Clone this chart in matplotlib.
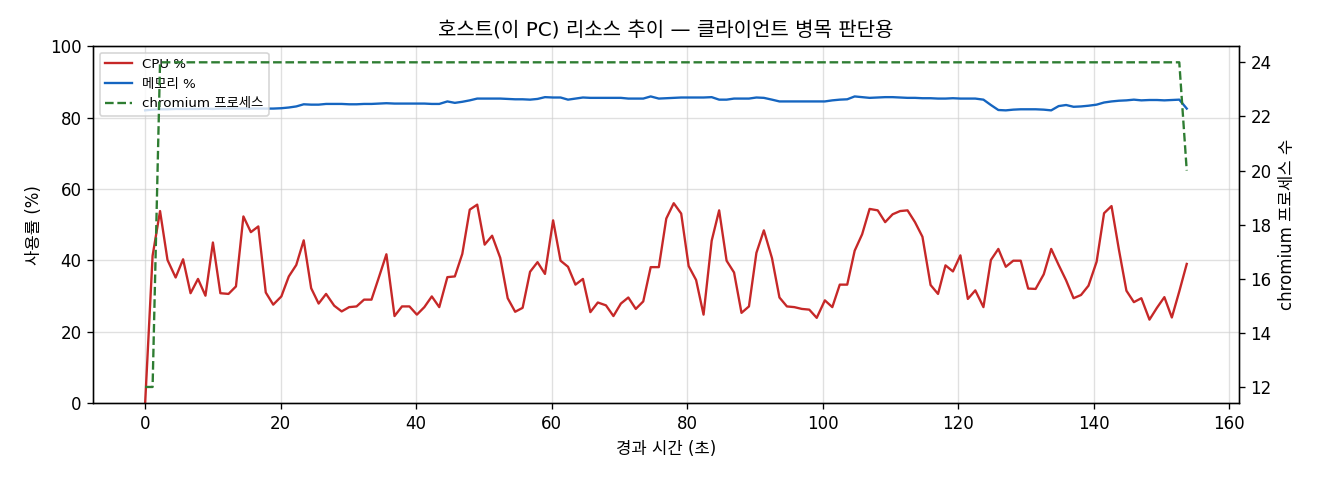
import matplotlib
matplotlib.use("Agg")
import matplotlib.pyplot as plt

plt.rcParams['font.family'] = ['DejaVu Sans', 'Noto Sans CJK KR']
plt.rcParams['axes.unicode_minus'] = False

time_s = [0.0, 1.1, 2.2, 3.3, 4.5, 5.6, 6.7, 7.8, 8.9, 10.0,
          11.1, 12.3, 13.4, 14.5, 15.6, 16.7, 17.8, 18.9, 20.1, 21.2,
          22.3, 23.4, 24.5, 25.6, 26.7, 27.9, 29.0, 30.1, 31.2, 32.3,
          33.4, 34.5, 35.6, 36.8, 37.9, 39.0, 40.1, 41.2, 42.3, 43.4,
          44.6, 45.7, 46.8, 47.9, 49.0, 50.1, 51.2, 52.4, 53.5, 54.6,
          55.7, 56.8, 57.9, 59.0, 60.2, 61.3, 62.4, 63.5, 64.6, 65.7,
          66.8, 68.0, 69.1, 70.2, 71.3, 72.4, 73.5, 74.6, 75.8, 76.9,
          78.0, 79.1, 80.2, 81.3, 82.4, 83.6, 84.7, 85.8, 86.9, 88.0,
          89.1, 90.2, 91.3, 92.5, 93.6, 94.7, 95.8, 96.9, 98.0, 99.1,
          100.3, 101.4, 102.5, 103.6, 104.7, 105.8, 106.9, 108.1, 109.2, 110.3,
          111.4, 112.5, 113.6, 114.7, 115.9, 117.0, 118.1, 119.2, 120.3, 121.4,
          122.5, 123.7, 124.8, 125.9, 127.0, 128.1, 129.2, 130.3, 131.4, 132.6,
          133.7, 134.8, 135.9, 137.0, 138.1, 139.2, 140.4, 141.5, 142.6, 143.7,
          144.8, 145.9, 147.0, 148.2, 149.3, 150.4, 151.5, 152.6, 153.7]

cpu_pct = [0.0, 41.3, 53.8, 40.1, 35.2, 40.3, 30.8, 34.8, 30.1, 45.0,
           30.8, 30.6, 32.7, 52.3, 47.9, 49.5, 31.0, 27.6, 29.9, 35.5,
           38.7, 45.6, 32.2, 27.9, 30.6, 27.3, 25.7, 26.9, 27.1, 29.0,
           29.0, 35.3, 41.7, 24.4, 27.1, 27.1, 24.8, 26.9, 29.9, 26.9,
           35.3, 35.5, 41.8, 54.2, 55.6, 44.4, 46.9, 40.7, 29.4, 25.6,
           26.7, 36.8, 39.5, 36.2, 51.2, 39.9, 38.2, 33.2, 34.8, 25.5,
           28.2, 27.4, 24.4, 27.9, 29.6, 26.4, 28.5, 38.1, 38.1, 51.7,
           56.0, 53.1, 38.4, 34.5, 24.8, 45.5, 54.0, 39.9, 36.6, 25.3,
           27.1, 42.1, 48.4, 40.6, 29.6, 27.1, 26.9, 26.4, 26.2, 23.9,
           28.8, 26.9, 33.2, 33.2, 42.7, 47.3, 54.4, 54.0, 50.7, 52.9,
           53.8, 54.0, 50.7, 46.6, 33.1, 30.6, 38.6, 36.9, 41.4, 29.2,
           31.6, 26.9, 40.1, 43.2, 38.2, 39.9, 39.9, 32.1, 32.0, 36.1,
           43.2, 38.7, 34.4, 29.4, 30.3, 32.9, 39.6, 53.2, 55.2, 42.9,
           31.5, 28.3, 29.4, 23.4, 26.7, 29.7, 24.0, 31.3, 39.0]

mem_pct = [82.0, 82.2, 82.3, 82.3, 82.4, 82.4, 82.4, 82.4, 82.5, 82.4,
           82.5, 82.5, 82.5, 82.5, 82.5, 82.5, 82.5, 82.5, 82.6, 82.8,
           83.1, 83.7, 83.6, 83.6, 83.8, 83.8, 83.8, 83.7, 83.7, 83.8,
           83.8, 83.9, 84.0, 83.9, 83.9, 83.9, 83.9, 83.9, 83.8, 83.8,
           84.5, 84.1, 84.4, 84.8, 85.3, 85.3, 85.3, 85.3, 85.2, 85.1,
           85.1, 85.0, 85.2, 85.7, 85.6, 85.6, 85.0, 85.3, 85.6, 85.5,
           85.5, 85.5, 85.5, 85.5, 85.3, 85.3, 85.3, 85.9, 85.3, 85.4,
           85.5, 85.6, 85.6, 85.6, 85.6, 85.7, 85.0, 85.0, 85.3, 85.3,
           85.3, 85.6, 85.5, 85.0, 84.5, 84.5, 84.5, 84.5, 84.5, 84.5,
           84.5, 84.8, 85.0, 85.1, 85.9, 85.7, 85.5, 85.6, 85.7, 85.7,
           85.6, 85.5, 85.5, 85.4, 85.4, 85.3, 85.3, 85.4, 85.3, 85.3,
           85.3, 85.0, 83.5, 82.1, 82.0, 82.2, 82.3, 82.3, 82.3, 82.2,
           82.0, 83.2, 83.5, 83.0, 83.1, 83.3, 83.6, 84.2, 84.5, 84.7,
           84.8, 85.0, 84.8, 84.9, 84.9, 84.8, 84.9, 85.0, 82.5]

chromium_procs = [12, 12] + [24] * 136 + [20]

fig = plt.figure(figsize=(11, 4), dpi=120)
ax = fig.add_axes([0.0705, 0.160, 0.868, 0.744])
ax2 = ax.twinx()

l1, = ax.plot(time_s, cpu_pct, color='#c62828', lw=1.4, label='CPU %')
l2, = ax.plot(time_s, mem_pct, color='#1565c0', lw=1.4, label='메모리 %')
l3, = ax2.plot(time_s, chromium_procs, color='#2e7d32', lw=1.4, ls='--', label='chromium 프로세스')

ax.set_ylim(0, 100)
ax.grid(True, color='#cccccc', alpha=0.6, lw=0.8)
ax.set_xlabel('경과 시간 (초)', fontsize=10)
ax.set_ylabel('사용률 (%)', fontsize=10)
ax2.set_ylabel('chromium 프로세스 수', fontsize=10)
ax.set_title('호스트(이 PC) 리소스 추이 — 클라이언트 병목 판단용', fontsize=12)
ax.tick_params(labelsize=10)
ax2.tick_params(labelsize=10)

ax.legend(handles=[l1, l2, l3], loc='upper left', fontsize=8, framealpha=0.8)

fig.savefig('out.png', dpi=120)
